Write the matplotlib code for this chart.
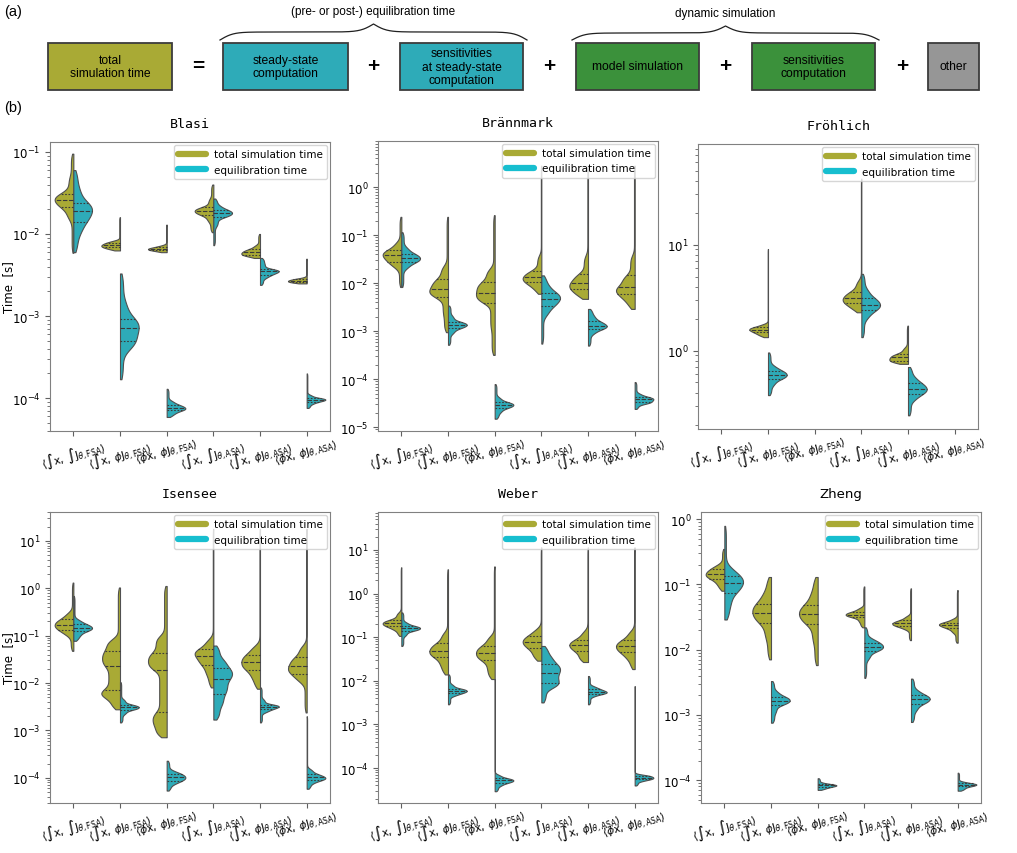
import math
import numpy as np
import matplotlib
matplotlib.use('Agg')
import matplotlib.pyplot as plt
from matplotlib.patches import Rectangle
from matplotlib.lines import Line2D

W, H = 1017, 854
fig = plt.figure(figsize=(W / 100, H / 100), dpi=100)

OLIVE = '#a9aa35'
TEAL = '#2eabb8'
GREEN = '#3b913b'
GREY = '#969696'
EDGE = '#505050'

# ---------------- data ----------------
parts = ['total\nsimulation time', 'steady-state\ncomputation',
         'sensitivities\nat steady-state\ncomputation', 'model simulation',
         'sensitivities\ncomputation', 'other']
groups = ['(pre- or post-) equilibration time', 'dynamic simulation']

models = ['Blasi', 'Brännmark', 'Fröhlich', 'Isensee', 'Weber', 'Zheng']
settings = [
    r'$\langle \int \mathrm{x},\, \int \mathrm{J}_{\theta,\mathrm{FSA}} \rangle$',
    r'$\langle \int \mathrm{x},\, \phi \mathrm{J}_{\theta,\mathrm{FSA}} \rangle$',
    r'$\langle \phi \mathrm{x},\, \phi \mathrm{J}_{\theta,\mathrm{FSA}} \rangle$',
    r'$\langle \int \mathrm{x},\, \int \mathrm{J}_{\theta,\mathrm{ASA}} \rangle$',
    r'$\langle \int \mathrm{x},\, \phi \mathrm{J}_{\theta,\mathrm{ASA}} \rangle$',
    r'$\langle \phi \mathrm{x},\, \phi \mathrm{J}_{\theta,\mathrm{ASA}} \rangle$',
]
series = ['total simulation time', 'equilibration time']

# time [s] per setting: (min, 10%, 25%, 50%, 75%, 90%, max); None = not available
blasi_total = [
    (0.0059, 0.015, 0.021, 0.026, 0.031, 0.050, 0.095),
    (0.0063, 0.0066, 0.0069, 0.0073, 0.0078, 0.0083, 0.016),
    (0.0060, 0.0062, 0.0064, 0.0066, 0.0069, 0.0073, 0.013),
    (0.0105, 0.014, 0.017, 0.019, 0.021, 0.027, 0.040),
    (0.0051, 0.0054, 0.0056, 0.0060, 0.0065, 0.0073, 0.010),
    (0.0025, 0.00257, 0.0026, 0.0027, 0.0028, 0.0029, 0.0050),
]
blasi_equil = [
    (0.0060, 0.010, 0.014, 0.019, 0.024, 0.036, 0.060),
    (0.00017, 0.00040, 0.00049, 0.00071, 0.00093, 0.0015, 0.0033),
    (5.9e-5, 6.5e-5, 7.1e-5, 7.6e-5, 8.3e-5, 9.3e-5, 1.3e-4),
    (0.0073, 0.0123, 0.016, 0.0178, 0.0195, 0.022, 0.027),
    (0.0024, 0.0029, 0.0032, 0.0035, 0.0037, 0.0044, 0.0051),
    (7.6e-5, 8.5e-5, 9.1e-5, 9.6e-5, 1.0e-4, 1.1e-4, 2.0e-4),
]
braennmark_total = [
    (0.0083, 0.021, 0.028, 0.038, 0.048, 0.071, 0.24),
    (0.00095, 0.0021, 0.0051, 0.0074, 0.012, 0.023, 0.24),
    (0.00032, 0.0011, 0.0039, 0.0063, 0.0105, 0.020, 0.26),
    (0.0060, 0.0083, 0.0105, 0.0133, 0.018, 0.038, 2.8),
    (0.0047, 0.0060, 0.0076, 0.0102, 0.0156, 0.038, 2.8),
    (0.0029, 0.0044, 0.0060, 0.0083, 0.0145, 0.038, 2.8),
]
braennmark_equil = [
    (0.0083, 0.020, 0.027, 0.033, 0.041, 0.056, 0.115),
    (0.00052, 0.00088, 0.00115, 0.00135, 0.00155, 0.0021, 0.0034),
    (1.5e-5, 2.0e-5, 2.5e-5, 2.9e-5, 3.3e-5, 4.2e-5, 7.9e-5),
    (0.00055, 0.0021, 0.0033, 0.0047, 0.0062, 0.0089, 0.0145),
    (0.00050, 0.00088, 0.00112, 0.0013, 0.0016, 0.0021, 0.0029),
    (2.4e-5, 3.1e-5, 3.3e-5, 3.8e-5, 4.2e-5, 5.0e-5, 8.7e-5),
]
froehlich_total = [
    None,
    (1.34, 1.41, 1.49, 1.58, 1.66, 1.78, 9.1),
    None,
    (2.3, 2.57, 2.82, 3.14, 3.6, 4.6, 42.0),
    (0.75, 0.78, 0.805, 0.865, 0.93, 1.07, 1.72),
    None,
]
froehlich_equil = [
    None,
    (0.38, 0.47, 0.54, 0.59, 0.645, 0.72, 0.96),
    None,
    (1.34, 2.0, 2.4, 2.72, 3.14, 3.8, 5.3),
    (0.245, 0.34, 0.39, 0.435, 0.49, 0.56, 0.70),
    None,
]
isensee_total = [
    (0.048, 0.102, 0.133, 0.17, 0.22, 0.31, 1.32),
    (0.0028, 0.0050, 0.0071, 0.0225, 0.047, 0.085, 1.04),
    (0.00072, 0.00126, 0.0024, 0.019, 0.043, 0.10, 1.12),
    (0.0081, 0.0145, 0.024, 0.038, 0.052, 0.085, 18.0),
    (0.0076, 0.0123, 0.019, 0.0275, 0.040, 0.062, 18.0),
    (0.0024, 0.0105, 0.0155, 0.0224, 0.035, 0.062, 18.0),
]
isensee_equil = [
    (0.078, 0.10, 0.126, 0.147, 0.175, 0.22, 0.69),
    (0.00148, 0.0022, 0.00275, 0.0031, 0.0035, 0.0046, 0.0105),
    (5.4e-5, 7.4e-5, 8.7e-5, 1.02e-4, 1.2e-4, 1.4e-4, 2.3e-4),
    (0.0017, 0.0033, 0.006, 0.0123, 0.0204, 0.032, 0.062),
    (0.00148, 0.0024, 0.0028, 0.0032, 0.0035, 0.0046, 0.0081),
    (5.9e-5, 7.8e-5, 9.1e-5, 1.02e-4, 1.2e-4, 1.55e-4, 0.0020),
]
weber_total = [
    (0.107, 0.148, 0.178, 0.21, 0.25, 0.37, 4.0),
    (0.014, 0.022, 0.035, 0.049, 0.072, 0.129, 3.6),
    (0.011, 0.017, 0.0295, 0.043, 0.063, 0.107, 4.2),
    (0.029, 0.039, 0.057, 0.078, 0.105, 0.155, 11.5),
    (0.027, 0.034, 0.049, 0.066, 0.087, 0.14, 11.5),
    (0.0186, 0.0315, 0.045, 0.062, 0.085, 0.14, 11.5),
]
weber_equil = [
    (0.063, 0.107, 0.14, 0.16, 0.18, 0.22, 0.37),
    (0.0029, 0.0045, 0.0052, 0.0059, 0.0066, 0.0083, 0.014),
    (2.95e-5, 3.9e-5, 4.6e-5, 5.2e-5, 5.8e-5, 7.1e-5, 0.011),
    (0.0032, 0.0071, 0.0091, 0.0155, 0.024, 0.037, 0.063),
    (0.0029, 0.0044, 0.0051, 0.0056, 0.0065, 0.0076, 0.0129),
    (4.0e-5, 5.0e-5, 5.5e-5, 6.0e-5, 6.6e-5, 7.1e-5, 0.0076),
]
zheng_total = [
    (0.08, 0.10, 0.123, 0.143, 0.17, 0.20, 0.35),
    (0.0071, 0.0145, 0.026, 0.037, 0.051, 0.075, 0.13),
    (0.0058, 0.0128, 0.025, 0.035, 0.048, 0.075, 0.13),
    (0.022, 0.0265, 0.0316, 0.0345, 0.038, 0.044, 0.093),
    (0.014, 0.0204, 0.023, 0.0252, 0.028, 0.033, 0.087),
    (0.0128, 0.018, 0.0214, 0.024, 0.026, 0.030, 0.082),
]
zheng_equil = [
    (0.029, 0.047, 0.075, 0.104, 0.135, 0.18, 0.79),
    (0.00076, 0.00107, 0.00144, 0.00166, 0.0019, 0.0023, 0.0033),
    (7.1e-5, 7.5e-5, 7.9e-5, 8.3e-5, 8.6e-5, 9.1e-5, 1.07e-4),
    (0.0037, 0.0071, 0.0095, 0.011, 0.0128, 0.0148, 0.022),
    (0.00078, 0.00115, 0.00148, 0.00174, 0.0020, 0.0024, 0.0036),
    (6.9e-5, 7.4e-5, 8.0e-5, 8.5e-5, 8.9e-5, 9.5e-5, 1.3e-4),
]

totals = [blasi_total, braennmark_total, froehlich_total, isensee_total, weber_total, zheng_total]
equils = [blasi_equil, braennmark_equil, froehlich_equil, isensee_equil, weber_equil, zheng_equil]

# ---------------- panel (a) ----------------
top = fig.add_axes([0, 0, 1, 1])
top.set_xlim(0, W)
top.set_ylim(H, 0)
top.axis('off')

box_x = [(48, 172), (223, 348), (400, 523), (576, 699), (752, 875), (928, 979)]
box_c = [OLIVE, TEAL, TEAL, GREEN, GREEN, GREY]
for (x0, x1), c, txt in zip(box_x, box_c, parts):
    top.add_patch(Rectangle((x0, 44), x1 - x0, 47, facecolor=c, edgecolor='#3c3c3c', lw=1.3))
    top.text((x0 + x1) / 2, 67.5, txt, ha='center', va='center', fontsize=8.7,
             family='Liberation Sans', linespacing=1.15)

for x, s in zip([198, 373, 549, 725, 902], ['=', '+', '+', '+', '+']):
    top.text(x, 67, s, ha='center', va='center', fontsize=15, fontweight='bold',
             family='Liberation Sans')


def brace(ax, x0, x1, y_end, y_tip, beta=0.15):
    xs = np.linspace(x0, x1, 401)
    half = xs[:201]
    v = 1 / (1 + np.exp(-beta * (half - half[0]))) + 1 / (1 + np.exp(-beta * (half - half[-1])))
    v = np.concatenate([v, v[-2::-1]])
    ax.plot(xs, y_end - (v - 0.5) * (y_end - y_tip), color='#202020', lw=0.9)


brace(top, 220, 527, 41, 25)
brace(top, 572, 879, 41, 27)
top.text(373.5, 12, groups[0], ha='center', va='center', fontsize=8.5, family='Liberation Sans')
top.text(725.5, 14, groups[1], ha='center', va='center', fontsize=8.5, family='Liberation Sans')
top.text(4, 12, '(a)', ha='left', va='center', fontsize=10.5, family='Liberation Sans')
top.text(4, 108, '(b)', ha='left', va='center', fontsize=10.5, family='Liberation Sans')

# ---------------- panel (b) ----------------
erf = np.vectorize(math.erf)
MASS = [0.1, 0.15, 0.25, 0.25, 0.15, 0.1]


def half_violin(ax, pos, q, side, color):
    lq = np.log10(q)
    sig = float(np.clip(0.3 * (lq[4] - lq[2]), 0.014, 0.08))
    y = np.linspace(lq[0], lq[-1], 500)
    d = np.zeros_like(y)
    for m, a, b in zip(MASS, lq[:-1], lq[1:]):
        if b - a < 1e-9:
            continue
        d += m / (b - a) * 0.5 * (erf((y - a) / (sig * np.sqrt(2))) - erf((y - b) / (sig * np.sqrt(2))))
    w = 0.4 * d / d.max()
    ax.fill_betweenx(10 ** y, pos, pos + side * w, facecolor=color, edgecolor=EDGE, lw=0.8, zorder=2)
    for k, dash in ((2, (1.5, 1.5)), (3, (4, 1.5)), (4, (1.5, 1.5))):
        wk = np.interp(lq[k], y, w)
        ax.plot([pos, pos + side * wk], [q[k], q[k]], color='#3a3a3a', lw=0.8,
                dashes=dash, zorder=3)


rects = [(50, 143, 330, 432), (378, 142, 658, 432), (698, 145, 978, 430),
         (50, 513, 330, 804), (378, 513, 658, 804), (701, 513, 981, 804)]
ylims = [(-4.40, -0.88), (-5.08, 0.96), (-0.74, 1.95),
         (-4.53, 1.61), (-4.80, 1.87), (-4.35, 0.11)]

for i, name in enumerate(models):
    l, t, r, b = rects[i]
    ax = fig.add_axes([l / W, 1 - b / H, (r - l) / W, (b - t) / H])
    ax.set_yscale('log')
    for p in range(len(settings)):
        if totals[i][p] is not None:
            half_violin(ax, p, totals[i][p], -1, OLIVE)
        if equils[i][p] is not None:
            half_violin(ax, p, equils[i][p], 1, TEAL)
    ax.set_xlim(-0.5, len(settings) - 0.5)
    ax.set_ylim(10 ** ylims[i][0], 10 ** ylims[i][1])
    ax.set_xticks(range(len(settings)))
    ax.set_xticklabels(settings, rotation=15, fontsize=7.8)
    ax.tick_params(axis='x', pad=1)
    ax.tick_params(axis='y', labelsize=8.5)
    ax.tick_params(which='both', color='#606060')
    for sp in ax.spines.values():
        sp.set_color('#808080')
    fam = 'DejaVu Sans' if name == 'Zheng' else 'DejaVu Sans Mono'
    ax.set_title(name, fontsize=9.5, family=fam, pad=11)
    if i % 3 == 0:
        ax.set_ylabel('Time  [s]', fontsize=8.5)
        ax.yaxis.set_label_coords(-0.125, 0.5)
    handles = [Line2D([0], [0], color=OLIVE, lw=4.5, solid_capstyle='round'),
               Line2D([0], [0], color='#17becf', lw=4.5, solid_capstyle='round')]
    ax.legend(handles, series, loc='upper right', fontsize=7.5, borderaxespad=0.3,
              handlelength=2.6)

fig.savefig('out.png', dpi=100)
